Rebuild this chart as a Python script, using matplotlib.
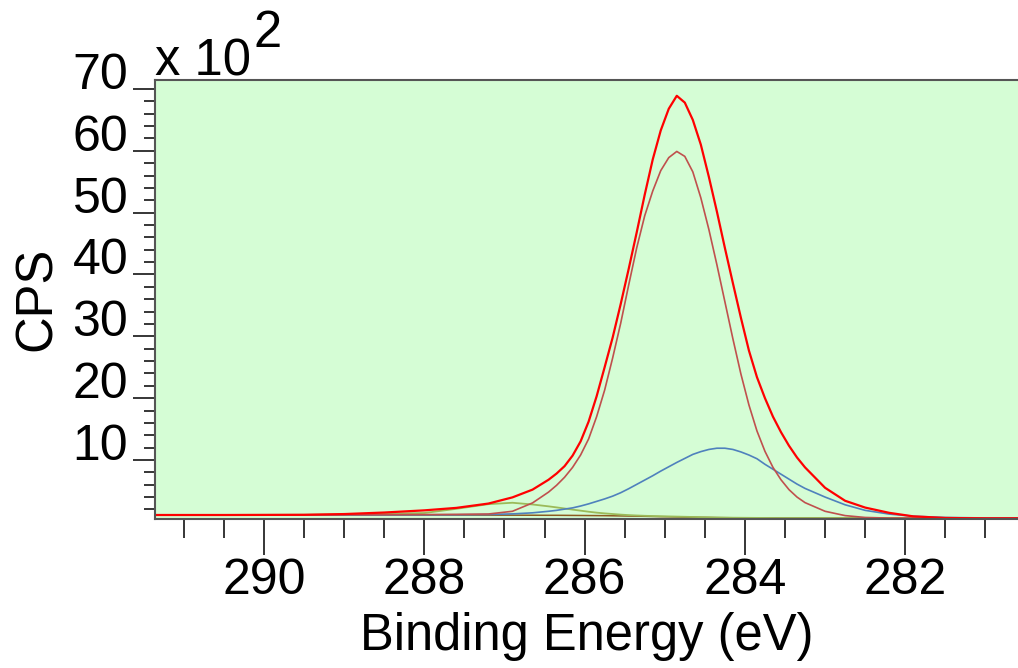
import matplotlib
matplotlib.use('Agg')
import matplotlib.pyplot as plt
import numpy as np

plt.rcParams['font.family'] = ['Liberation Sans', 'DejaVu Sans']

# binding energy (eV); every curve below is in units of 100 CPS
energy = [291.4, 290.5, 289.5, 289.0, 288.5, 288.0, 287.6, 287.2, 286.9, 286.65,
          286.45, 286.35, 286.25, 286.15, 286.05, 285.95, 285.85, 285.75, 285.65, 285.55,
          285.45, 285.35, 285.25, 285.15, 285.05, 284.95, 284.85, 284.75, 284.65, 284.55,
          284.45, 284.35, 284.25, 284.15, 284.05, 283.95, 283.85, 283.75, 283.65, 283.55,
          283.45, 283.35, 283.25, 283.0, 282.75, 282.5, 282.2, 281.9, 281.5, 281.0,
          280.6]

background = [1.10, 1.10, 1.10, 1.10, 1.10, 1.10, 1.09, 1.08, 1.07, 1.06,
              1.05, 1.05, 1.04, 1.03, 1.02, 1.01, 1.00, 0.99, 0.97, 0.95,
              0.93, 0.91, 0.89, 0.86, 0.83, 0.81, 0.78, 0.75, 0.73, 0.71,
              0.69, 0.67, 0.66, 0.65, 0.64, 0.63, 0.62, 0.61, 0.61, 0.60,
              0.60, 0.60, 0.60, 0.60, 0.60, 0.60, 0.60, 0.60, 0.60, 0.60,
              0.60]

# C-C component (brown red)
peak_cc = [1.11, 1.12, 1.13, 1.14, 1.15, 1.17, 1.20, 1.26, 1.70, 3.05,
           4.80, 5.90, 7.20, 8.80, 10.8, 13.4, 17.0, 21.3, 26.5, 32.1,
           38.3, 44.3, 49.5, 53.5, 56.8, 58.9, 59.9, 59.1, 56.6, 52.4,
           47.3, 41.6, 35.6, 29.6, 23.9, 18.9, 14.7, 11.4, 8.80, 6.80,
           5.20, 4.00, 3.10, 1.70, 1.00, 0.70, 0.60, 0.60, 0.60, 0.60,
           0.60]

# blue component
peak_blue = [1.10, 1.10, 1.10, 1.10, 1.11, 1.12, 1.14, 1.18, 1.28, 1.45,
             1.70, 1.85, 2.05, 2.25, 2.55, 2.90, 3.30, 3.70, 4.15, 4.70,
             5.35, 6.05, 6.75, 7.45, 8.20, 8.90, 9.60, 10.25, 10.9, 11.35,
             11.7, 11.9, 11.9, 11.7, 11.3, 10.8, 10.2, 9.30, 8.50, 7.70,
             6.90, 6.10, 5.40, 4.00, 2.75, 1.85, 1.25, 0.90, 0.70, 0.62,
             0.60]

# green component
peak_green = [1.10, 1.11, 1.14, 1.20, 1.30, 1.42, 2.10, 2.85, 3.08, 2.80,
              2.50, 2.33, 2.15, 1.97, 1.80, 1.63, 1.48, 1.36, 1.26, 1.16,
              1.08, 1.02, 0.97, 0.93, 0.90, 0.87, 0.84, 0.81, 0.78, 0.75,
              0.73, 0.70, 0.68, 0.66, 0.65, 0.64, 0.63, 0.62, 0.61, 0.60,
              0.60, 0.60, 0.60, 0.60, 0.60, 0.60, 0.60, 0.60, 0.60, 0.60,
              0.60]

# fit envelope (red)
envelope = [1.10, 1.10, 1.13, 1.25, 1.50, 1.85, 2.25, 2.95, 3.95, 5.20,
            6.80, 7.80, 9.00, 10.7, 13.0, 16.2, 20.3, 25.0, 29.8, 35.2,
            40.9, 46.8, 52.9, 58.6, 63.3, 66.8, 68.9, 67.8, 65.0, 61.0,
            55.8, 50.2, 44.3, 38.6, 33.0, 27.7, 23.4, 20.0, 17.0, 14.5,
            12.3, 10.4, 8.80, 5.50, 3.40, 2.30, 1.45, 0.88, 0.62, 0.55,
            0.55]

y_major = [10, 20, 30, 40, 50, 60, 70]
x_major = [290, 288, 286, 284, 282]

fig = plt.figure(figsize=(10.18, 6.68), dpi=100)
ax = fig.add_axes([0.1527, 0.2235, 0.8473, 0.6567])
ax.set_facecolor('#d5fdd5')

ax.plot(energy, background, color='#8c5a1e', lw=1.1)
ax.plot(energy, peak_green, color='#9bbb59', lw=1.3)
ax.plot(energy, peak_blue, color='#4f81bd', lw=1.2)
ax.plot(energy, peak_cc, color='#c0504d', lw=1.2)
ax.plot(energy, envelope, color='#ff0000', lw=1.6)

ax.set_xlim(291.354, 280.593)
ax.set_ylim(0.5, 71.45)

ax.set_xticks(x_major)
ax.set_xticklabels([str(v) for v in x_major])
ax.set_xticks(np.arange(281, 291.5, 0.5), minor=True)
ax.set_yticks(y_major)
ax.set_yticklabels([str(v) for v in y_major])
ax.set_yticks(np.arange(2, 71, 2), minor=True)

ax.tick_params(axis='x', which='major', direction='out', length=26, width=1.1,
               pad=2, labelsize=36)
ax.tick_params(axis='x', which='minor', direction='out', length=13.5, width=1.1)
ax.tick_params(axis='y', which='major', direction='out', length=16, width=1.1,
               pad=3.5, labelsize=36)
ax.tick_params(axis='y', which='minor', direction='out', length=8, width=1.1)
for lbl in ax.get_yticklabels():
    lbl.set_verticalalignment('baseline')

for side in ['left', 'top', 'bottom']:
    ax.spines[side].set_color('#555555')
    ax.spines[side].set_linewidth(1.5)
ax.spines['right'].set_visible(False)

ax.set_xlabel('Binding Energy (eV)', fontsize=36.5, labelpad=6)
ax.set_ylabel('CPS', fontsize=36.5, labelpad=8)

fig.text(155 / 1018, 1 - 75 / 668, 'x 10', fontsize=36.5, ha='left', va='baseline')
fig.text(253 / 1018, 1 - 47 / 668, '2', fontsize=36.5, ha='left', va='baseline')

fig.savefig('out.png', dpi=100)
